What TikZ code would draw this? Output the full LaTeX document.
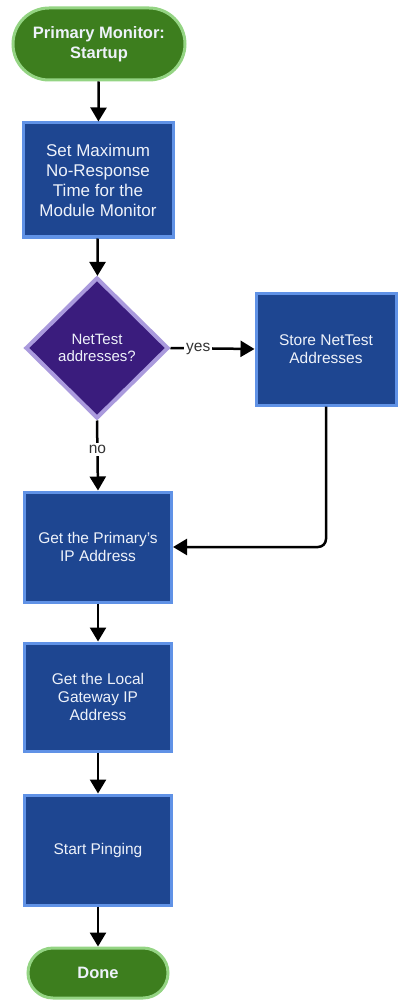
\documentclass[tikz,border=0pt]{standalone}
\usepackage{fontspec}
\setmainfont{Liberation Sans}
\usetikzlibrary{shapes.geometric,arrows.meta}
\definecolor{tfill}{HTML}{3D7E1E}
\definecolor{tline}{HTML}{94D483}
\definecolor{bfill}{HTML}{1E4691}
\definecolor{bline}{HTML}{6092E6}
\definecolor{dfill}{HTML}{3A1C7D}
\definecolor{dline}{HTML}{AA9ADD}
\definecolor{txt}{HTML}{EEF2FA}
\definecolor{lbl}{HTML}{333333}
\tikzset{
  term/.style={draw=tline, fill=tfill, line width=3pt, text=txt, align=center,
    font=\fontsize{16.5}{20}\selectfont\bfseries, inner sep=0pt},
  proc/.style={draw=bline, fill=bfill, line width=3pt, text=txt, align=center,
    font=\fontsize{15.5}{18}\selectfont, inner sep=0pt,
    minimum width=147pt, minimum height=110pt},
  dec/.style={diamond, draw=dline, fill=dfill, line width=4pt, text=txt, align=center,
    font=\fontsize{15}{17.5}\selectfont, inner sep=0pt,
    minimum width=143pt, minimum height=141pt},
  conn/.style={line width=2.5pt, black, -{Triangle[length=14pt,width=16pt]}},
  lab/.style={fill=white, text=lbl, font=\fontsize{15.5}{17}\selectfont, inner sep=2pt, anchor=center, yshift=-1pt}
}
\begin{document}
\begin{tikzpicture}[x=1pt,y=-1pt]
\useasboundingbox (0,0) rectangle (398,1000);
\node[term, minimum width=172pt, minimum height=72pt, rounded corners=36pt] (start) at (99,44) {Primary Monitor:\\Startup};
\node[proc, minimum width=150pt, minimum height=114pt, font=\fontsize{17}{20}\selectfont] (setmax) at (98,180) {Set Maximum\\No-Response\\Time for the\\Module Monitor};
\node[dec] (q) at (97,348) {NetTest\\addresses?};
\node[proc, minimum width=140pt, minimum height=112pt] (store) at (326,349) {Store NetTest\\Addresses};
\node[proc] (prim) at (98,547) {Get the Primary's\\IP Address};
\node[proc, minimum height=108pt] (gw) at (98,697) {Get the Local\\Gateway IP\\Address};
\node[proc] (ping) at (98,850) {Start Pinging};
\node[term, minimum width=140pt, minimum height=50pt, rounded corners=25pt] (done) at (98,973) {Done};
\draw[conn] (start) -- (setmax);
\draw[conn] (setmax) -- (q);
\draw[conn] (q.east) -- node[lab, pos=0.33] {yes} (store.west);
\draw[conn] (q.south) -- node[lab, pos=0.4] {no} (prim.north);
\draw[conn, rounded corners=8pt] (store.south) |- (prim.east);
\draw[conn] (prim) -- (gw);
\draw[conn] (gw) -- (ping);
\draw[conn] (ping) -- (done);
\end{tikzpicture}
\end{document}
